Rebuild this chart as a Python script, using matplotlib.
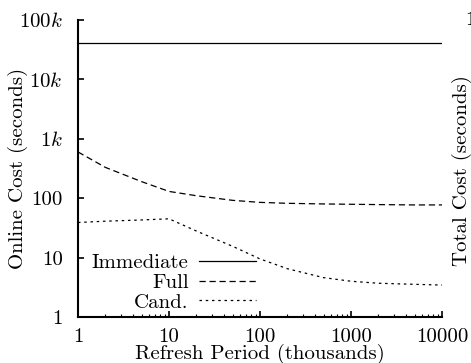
import numpy as np
import matplotlib
matplotlib.use("Agg")
import matplotlib.pyplot as plt
from matplotlib.ticker import FixedLocator, LogLocator, NullFormatter

plt.rcParams['font.family'] = 'serif'
plt.rcParams['font.serif'] = ['cmr10']
plt.rcParams['mathtext.fontset'] = 'cm'
plt.rcParams['axes.formatter.use_mathtext'] = True

# refresh period (thousands)
period = [1, 2, 5, 10, 20, 50, 100, 200, 500, 1000, 2000, 5000, 10000]
immediate = [41000] * len(period)
full = [600, 330, 190, 130, 110, 92, 85, 82, 80, 79, 78, 77, 77]
cand = [39, 41, 43, 45, 28, 15.5, 9.5, 6.5, 4.6, 4.0, 3.7, 3.55, 3.45]

yticks = [1, 10, 100, 1000, 10000, 100000]
ytick_labels = ['1', '10', '100', r'$1k$', r'$10k$', r'$100k$']
xticks = [1, 10, 100, 1000, 10000]
xtick_labels = ['1', '10', '100', '1000', '10000']

fs = 15

fig = plt.figure(figsize=(4.71, 3.63), dpi=100)
ax = fig.add_axes([0.1656, 0.1267, 0.7728, 0.8183])

ax.plot(period, immediate, color='black', lw=0.9, label='Immediate')
ax.plot(period, full, color='black', lw=0.9, dashes=(5, 3), label='Full')
ax.plot(period, cand, color='black', lw=0.9, dashes=(2, 3), label='Cand.')

ax.set_xscale('log')
ax.set_yscale('log')
ax.set_xlim(1, 10000)
ax.set_ylim(1, 100000)

ax.xaxis.set_major_locator(FixedLocator(xticks))
ax.set_xticklabels(xtick_labels)
ax.xaxis.set_minor_locator(LogLocator(base=10, subs=np.arange(2, 10)))
ax.xaxis.set_minor_formatter(NullFormatter())
ax.yaxis.set_major_locator(FixedLocator(yticks))
ax.set_yticklabels(ytick_labels)
ax.yaxis.set_minor_locator(FixedLocator([]))

for s in ['top', 'right']:
    ax.spines[s].set_visible(False)
for s in ['left', 'bottom']:
    ax.spines[s].set_linewidth(1.5)
ax.tick_params(which='major', direction='in', length=4, width=1.2, labelsize=fs)
ax.tick_params(which='minor', direction='in', length=2, width=0.8)
ax.tick_params(axis='y', pad=11)
ax.tick_params(axis='x', pad=8)

ax.set_xlabel('Refresh Period (thousands)', fontsize=fs)
ax.xaxis.set_label_coords(0.5, -0.1414)
ax.xaxis.label.set_va('baseline')
ax.set_ylabel('Online Cost (seconds)', fontsize=fs)
ax.yaxis.set_label_coords(-0.165, 0.5)
ax.yaxis.label.set_va('center')

ax.legend(loc='lower left', bbox_to_anchor=(0.038, 0.0185), frameon=False, fontsize=fs,
          markerfirst=False, handlelength=2.75, labelspacing=0.05, handletextpad=0.48,
          borderaxespad=0, borderpad=0)

fig.text(0.981, 0.529, 'Total Cost (seconds)', rotation=90, fontsize=fs,
         ha='center', va='center')
fig.text(0.988, 0.945, '1', fontsize=fs, ha='left', va='center')

fig.savefig('out.png', dpi=100)
